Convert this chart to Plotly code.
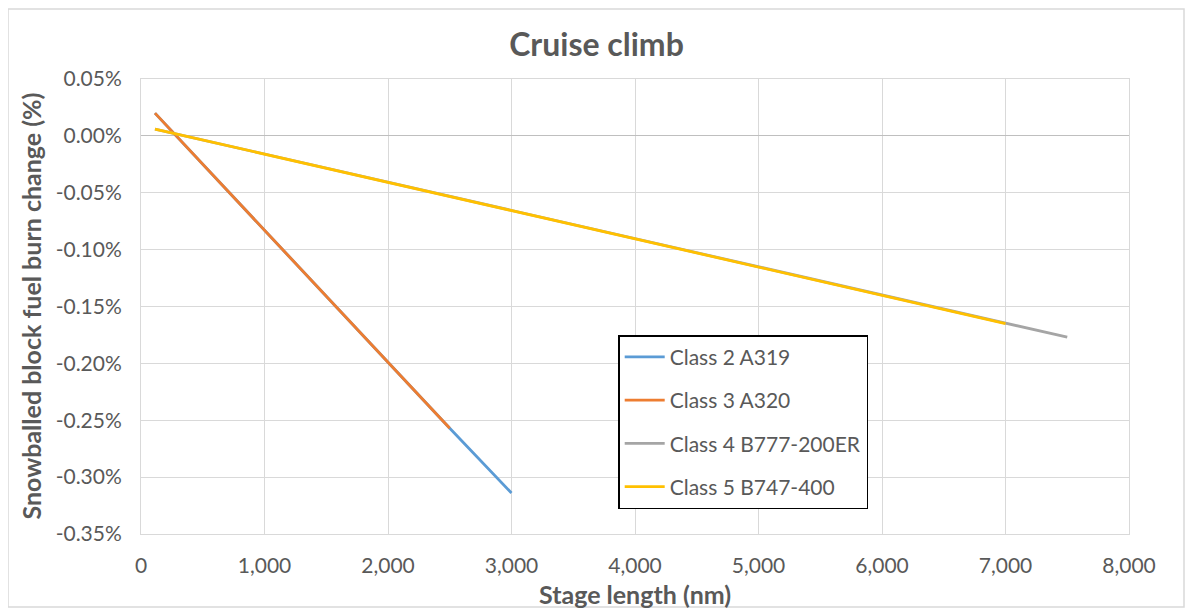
import plotly.graph_objects as go

# values (fuel burn change in %)
class2_x = [113, 1000, 2000, 2500, 3000]
class2_y = [0.020, -0.083, -0.199, -0.257, -0.314]
class3_x = [113, 1000, 2000, 2500]
class3_y = [0.020, -0.083, -0.199, -0.257]
class4_x = [113, 1000, 3000, 5000, 7000, 7500]
class4_y = [0.006, -0.016, -0.066, -0.115, -0.165, -0.177]
class5_x = [113, 1000, 3000, 5000, 7000]
class5_y = [0.006, -0.016, -0.066, -0.115, -0.165]

x_ticks = [0, 1000, 2000, 3000, 4000, 5000, 6000, 7000, 8000]
x_labels = ["0", "1,000", "2,000", "3,000", "4,000", "5,000", "6,000", "7,000", "8,000"]
y_ticks = [0.05, 0.0, -0.05, -0.10, -0.15, -0.20, -0.25, -0.30, -0.35]
y_labels = ["0.05%", "0.00%", "-0.05%", "-0.10%", "-0.15%", "-0.20%", "-0.25%", "-0.30%", "-0.35%"]

series = [
    ("Class 2 A319", class2_x, class2_y, "#5b9bd5"),
    ("Class 3 A320", class3_x, class3_y, "#ed7d31"),
    ("Class 4 B777-200ER", class4_x, class4_y, "#a5a5a5"),
    ("Class 5 B747-400", class5_x, class5_y, "#ffc000"),
]

font_family = "Lato, 'Open Sans', sans-serif"
text_grey = "#595959"

fig = go.Figure()
for i, (name, xs, ys, col) in enumerate(series):
    fig.add_trace(go.Scatter(
        x=xs, y=ys, mode="lines", name=name, legendgroup=f"g{i}",
        line=dict(color=col, width=2.8),
    ))

# page body has an 8px margin, so the figure is a bit smaller than the window
fig.update_layout(
    width=1177, height=600,
    margin=dict(l=133, r=56, t=71, b=74),
    plot_bgcolor="white", paper_bgcolor="white",
    font=dict(family=font_family, color=text_grey, size=21),
    title=dict(text="<b>Cruise climb</b>", x=0.5, xanchor="center",
               y=(600 - 37) / 600, yanchor="middle",
               font=dict(size=32, color=text_grey)),
    legend=dict(
        x=0.483, y=0.437, xanchor="left", yanchor="top",
        bordercolor="black", borderwidth=1.5, bgcolor="white",
        font=dict(size=21, color=text_grey),
        tracegroupgap=13, itemwidth=40,
    ),
    showlegend=True,
)

fig.update_xaxes(
    range=[0, 8000], tickvals=x_ticks, ticktext=x_labels, automargin=False,
    showgrid=True, gridcolor="#d9d9d9", gridwidth=1,
    zeroline=False, showline=True, linecolor="#d9d9d9", mirror=True,
    ticks="", ticklabelstandoff=13, tickfont=dict(size=21),
)
fig.update_yaxes(
    range=[-0.35, 0.05], tickvals=y_ticks, ticktext=y_labels, automargin=False,
    showgrid=True, gridcolor="#d9d9d9", gridwidth=1,
    zeroline=True, zerolinecolor="#bfbfbf", zerolinewidth=1,
    showline=True, linecolor="#d9d9d9", mirror=True,
    ticks="", ticklabelstandoff=14, tickfont=dict(size=21),
)

# axis titles placed as annotations so the plot area stays put
fig.add_annotation(text="<b>Stage length (nm)</b>", xref="paper", yref="paper",
                   x=0.5, y=-0.131, xanchor="center", yanchor="middle",
                   showarrow=False, font=dict(size=25, color=text_grey))
fig.add_annotation(text="<b>Snowballed block fuel burn change (%)</b>", xref="paper", yref="paper",
                   x=-0.1123, y=0.5, xanchor="center", yanchor="middle", textangle=-90,
                   showarrow=False, font=dict(size=25, color=text_grey))

# light outer chart border like the Excel chart area
fig.add_shape(type="rect", xref="paper", yref="paper",
              x0=-133 / 988, x1=(1177 - 133 - 1) / 988,
              y0=-73 / 455, y1=(455 + 70) / 455,
              line=dict(color="#d9d9d9", width=1.5), layer="below")

fig.write_html("out.html")
